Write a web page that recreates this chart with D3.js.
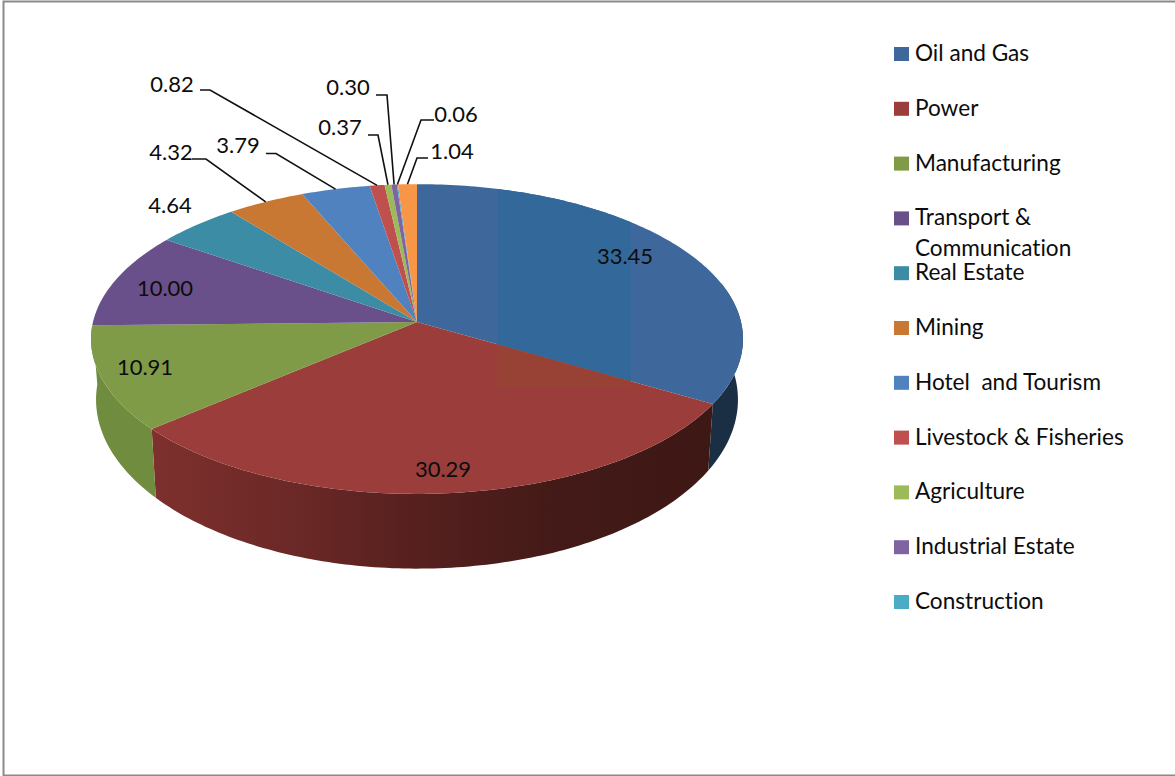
<!DOCTYPE html>
<html>
<head>
<meta charset="utf-8">
<script src="https://cdn.jsdelivr.net/npm/d3@7"></script>
<style>
  html, body { margin: 0; padding: 0; background: #fff; }
  text { font-family: Lato, "Open Sans", sans-serif; fill: #0c0c0c; font-variant-ligatures: none; }
</style>
</head>
<body>
<div id="chart"></div>
<script>
/* DATA */
const categories = ["Oil and Gas", "Power", "Manufacturing", "Transport & Communication", "Real Estate",
  "Mining", "Hotel  and Tourism", "Livestock & Fisheries", "Agriculture", "Industrial Estate", "Construction", ""];
const values = [33.45, 30.29, 10.91, 10.00, 4.64, 4.32, 3.79, 0.82, 0.37, 0.30, 0.06, 1.04];
const valueLabels = ["33.45", "30.29", "10.91", "10.00", "4.64", "4.32", "3.79", "0.82", "0.37", "0.30", "0.06", "1.04"];

/* CONSTANTS AND GLOBALS */
const width = 1175, height = 776;
const labelSize = 22, legendSize = 22.6;
const topColors = ["#3e689c", "#9a3d3b", "#7f9b47", "#69508a", "#3d8ca6", "#c87832",
  "#4f82be", "#c0504d", "#9bbb59", "#8064a2", "#4bacc6", "#f79646"];
// only the first three slices reach the front of the disc
const wallColors = ["#1a2e44", "url(#redWall)", "#6f8c3f"];
const bandColors = { 0: "#33689a", 1: "#974235" };

// the chart is a tilted disc, so the rim goes through a small perspective transform
const perspective = -0.11;
const topPlane = { cx: 417, cy: 322, rx: 324, ry: 153 };
const bottomPlane = { cx: 417, cy: 381, rx: 319, ry: 167 };
const project = (angle, plane) => {
  const t = -Math.cos(angle), w = 1 + perspective * t;
  return [plane.cx + plane.rx * Math.sin(angle) / w, plane.cy + plane.ry * t / w];
};
const rim = (a0, a1, plane) => {
  const n = Math.max(2, Math.ceil((a1 - a0) * 60));
  return d3.range(n + 1).map(i => project(a0 + (a1 - a0) * i / n, plane));
};

// label anchors, the leader is the elbow before the line runs to the slice
const labelLayout = [
  { x: 625, y: 264 },
  { x: 443, y: 477 },
  { x: 145, y: 375 },
  { x: 165, y: 296 },
  { x: 170, y: 213 },
  { x: 171, y: 160, leader: [[192, 159], [206, 159]] },
  { x: 238, y: 153, leader: [[266, 153.5], [276, 153.5]] },
  { x: 172, y: 92, leader: [[200, 90], [210, 90]] },
  { x: 340, y: 135, leader: [[368, 135], [378, 135]] },
  { x: 348, y: 95, leader: [[376, 95], [387, 95]] },
  { x: 456, y: 122, leader: [[434, 120], [421, 120]] },
  { x: 452, y: 159, leader: [[428, 158], [417, 158]] }
];

const svg = d3.select("#chart").append("svg")
  .attr("width", width)
  .attr("height", height)
  .style("display", "block");

// outer frame, the right side is cut off in the original
svg.append("path")
  .attr("d", "M1175,1.5H3.5V775.5H1175")
  .attr("fill", "none")
  .attr("stroke", "#8a8a8a")
  .attr("stroke-width", 2);

/* PIE */
const slices = d3.pie().sort(null).value(d => d)(values);
const line = d3.line();
const defs = svg.append("defs");

const redWall = defs.append("linearGradient")
  .attr("id", "redWall")
  .attr("gradientUnits", "userSpaceOnUse")
  .attr("x1", 156).attr("x2", 710).attr("y1", 0).attr("y2", 0);
[[0, "#7d302d"], [0.26, "#6a2826"], [0.48, "#55201e"], [0.72, "#431a17"], [1, "#3e1815"]]
  .forEach(s => redWall.append("stop").attr("offset", s[0]).attr("stop-color", s[1]));

defs.append("clipPath").attr("id", "band")
  .append("rect").attr("x", 497).attr("y", 170).attr("width", 134).attr("height", 218);

// walls, starting a bit behind the right edge so the silhouette closes
const wallFrom = Math.PI * 75 / 180;
svg.append("g").selectAll("path")
  .data(slices.filter(d => wallColors[d.index]))
  .join("path")
  .attr("fill", d => wallColors[d.index])
  .attr("d", d => {
    const a0 = Math.max(d.startAngle, wallFrom);
    return line(rim(a0, d.endAngle, topPlane).concat(rim(a0, d.endAngle, bottomPlane).reverse())) + "Z";
  });

// top faces
const slicePath = d => line([[topPlane.cx, topPlane.cy]].concat(rim(d.startAngle, d.endAngle, topPlane))) + "Z";
svg.append("g").selectAll("path")
  .data(slices)
  .join("path")
  .attr("fill", d => topColors[d.index])
  .attr("d", slicePath);

// slightly different tone through the middle of the big slices
svg.append("g").attr("clip-path", "url(#band)").selectAll("path")
  .data(slices.filter(d => bandColors[d.index]))
  .join("path")
  .attr("fill", d => bandColors[d.index])
  .attr("d", slicePath);

/* LEADERS AND LABELS */
svg.append("g").selectAll("path")
  .data(slices.filter(d => labelLayout[d.index].leader))
  .join("path")
  .attr("fill", "none")
  .attr("stroke", "#111")
  .attr("stroke-width", 1.6)
  .attr("d", d => line(labelLayout[d.index].leader.concat([project((d.startAngle + d.endAngle) / 2, topPlane)])));

svg.append("g").selectAll("text")
  .data(valueLabels)
  .join("text")
  .attr("x", (d, i) => labelLayout[i].x)
  .attr("y", (d, i) => labelLayout[i].y)
  .attr("text-anchor", "middle")
  .attr("font-size", labelSize)
  .text(d => d);

/* LEGEND */
const legendItems = categories.filter(d => d !== "");
const legendY = d3.scaleLinear().domain([0, legendItems.length - 1]).range([47, 595]);
const legend = svg.append("g").selectAll("g")
  .data(legendItems)
  .join("g")
  .attr("transform", (d, i) => `translate(894, ${legendY(i)})`);

legend.append("rect")
  .attr("width", 15).attr("height", 14)
  .attr("fill", (d, i) => topColors[i]);

legend.append("text")
  .attr("x", 21).attr("y", 14)
  .attr("font-size", legendSize)
  .selectAll("tspan")
  .data(d => d.startsWith("Transport") ? ["Transport &", "Communication"] : [d])
  .join("tspan")
  .attr("x", 21)
  .attr("dy", (d, i) => i ? 31 : 0)
  .style("white-space", "pre")
  .text(d => d);
</script>
</body>
</html>
